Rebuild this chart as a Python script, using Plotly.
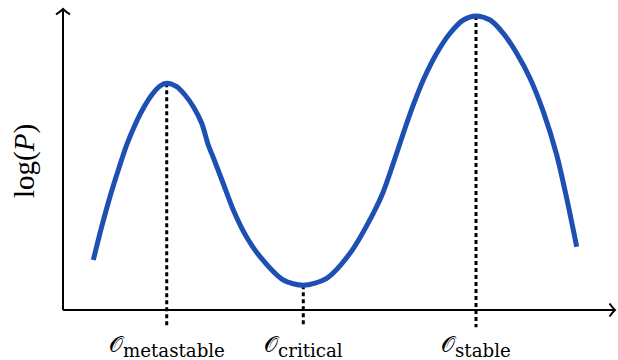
import plotly.graph_objects as go

# Landscape curve, sampled along its length (x: order parameter, y: log P)
curve_x = [0.549, 0.701, 0.851, 1.002, 1.154, 1.304, 1.455, 1.607, 1.757, 1.879,
           2.060, 2.210, 2.361, 2.513, 2.632, 2.726, 2.899, 3.085, 3.315, 3.569,
           3.991, 4.353, 4.777, 5.199, 5.621, 5.803, 6.014, 6.165, 6.346, 6.527,
           6.770, 7.011, 7.252, 7.482, 7.736, 7.976, 8.219, 8.460, 8.701, 8.944,
           9.125, 9.306]
curve_y = [1.661, 2.767, 3.764, 4.651, 5.482, 6.146, 6.701, 7.143, 7.442, 7.532,
           7.419, 7.143, 6.754, 6.203, 5.482, 5.050, 4.219, 3.322, 2.458, 1.771,
           0.997, 0.821, 1.053, 1.884, 3.213, 3.930, 5.040, 5.870, 6.811, 7.641,
           8.528, 9.193, 9.635, 9.767, 9.635, 9.193, 8.528, 7.698, 6.588, 5.150,
           3.711, 2.103]

# Marked states: position, curve height, label subscript
state_x = [1.879, 4.353, 7.482]
state_y = [7.532, 0.821, 9.767]
state_names = ["metastable", "critical", "stable"]

BLUE = "#1e4fb2"
PX_X = 55.2   # pixels per x unit
PX_Y = 30.1   # pixels per y unit
X_TOP = 10.0
Y_TOP = 10.0
TICK_DROP = -0.57

PLOT_W, PLOT_H, LEFT = 578, 330, 40
X0_PX = 63          # pixel column of x = 0 within the figure

fig = go.Figure()

fig.add_trace(go.Scatter(
    x=curve_x, y=curve_y, mode="lines",
    line=dict(color=BLUE, width=5, shape="spline", smoothing=0.8),
    hoverinfo="skip", showlegend=False,
))

shapes = []
# dotted drop lines from each marked state down past the axis
for sx, sy in zip(state_x, state_y):
    shapes.append(dict(type="line", xref="x", yref="y",
                       x0=sx, x1=sx, y0=sy, y1=TICK_DROP,
                       line=dict(color="black", width=3, dash="4px,3px"),
                       layer="below"))

# axes with open arrowheads
shapes.append(dict(type="line", xref="x", yref="y", x0=0, x1=X_TOP, y0=0, y1=0,
                   line=dict(color="black", width=2)))
shapes.append(dict(type="line", xref="x", yref="y", x0=0, x1=0, y0=0, y1=Y_TOP,
                   line=dict(color="black", width=2)))
ax, ay = 5.5 / PX_X, 6.5 / PX_Y
shapes.append(dict(type="path", xref="x", yref="y",
                   path=f"M {X_TOP-ax},{ay} Q {X_TOP-ax*0.4},{ay*0.3} {X_TOP},0 "
                        f"Q {X_TOP-ax*0.4},{-ay*0.3} {X_TOP-ax},{-ay}",
                   line=dict(color="black", width=2)))
bx, by = 7 / PX_X, 5.5 / PX_Y
shapes.append(dict(type="path", xref="x", yref="y",
                   path=f"M {-bx},{Y_TOP-by} Q {-bx*0.3},{Y_TOP-by*0.4} 0,{Y_TOP} "
                        f"Q {bx*0.3},{Y_TOP-by*0.4} {bx},{Y_TOP-by}",
                   line=dict(color="black", width=2)))


def paper_x(px):
    return (px - LEFT) / PLOT_W


def paper_y(py):
    return (PLOT_H - py) / PLOT_H


annotations = []
for sx, name in zip(state_x, state_names):
    annotations.append(dict(
        x=paper_x(X0_PX + sx * PX_X), y=paper_y(362), xref="paper", yref="paper",
        xanchor="center", yanchor="bottom", borderpad=0,
        text=(f'<span style="font-size:22px">𝒪</span>'
              f'<sub><span style="font-family:DejaVu Serif">{name}</span></sub>'),
        showarrow=False,
        font=dict(family="DejaVu Serif, serif", size=26, color="black"),
    ))

annotations.append(dict(
    x=paper_x(24), y=paper_y(161), xref="paper", yref="paper",
    xanchor="center", yanchor="middle", showarrow=False,
    text="log(<i>P</i>)", textangle=-90,
    font=dict(family="Liberation Serif, DejaVu Serif, serif", size=29, color="black"),
))

fig.update_layout(
    width=618, height=360,
    margin=dict(l=LEFT, r=0, t=0, b=360 - PLOT_H),
    paper_bgcolor="white", plot_bgcolor="white",
    xaxis=dict(range=[-23 / PX_X, 555 / PX_X], visible=False, fixedrange=True),
    yaxis=dict(range=[-20 / PX_Y, 310 / PX_Y], visible=False, fixedrange=True),
    shapes=shapes, annotations=annotations,
)

fig.write_html("out.html")
